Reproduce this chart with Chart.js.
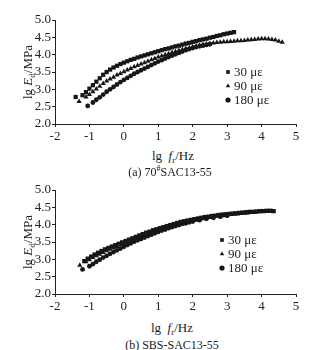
<!DOCTYPE html>
<html>
<head>
<meta charset="utf-8">
<script src="https://cdn.jsdelivr.net/npm/chart.js@4.4.0/dist/chart.umd.min.js"></script>
<style>
  body { margin: 0; background: #fff; }
  #wrap { position: relative; width: 332px; height: 350px; font-family: "Liberation Serif", serif; color: #222; }
  canvas { position: absolute; left: 0; }
  .txt { position: absolute; white-space: nowrap; transform: translate(-50%, -50%); font-size: 13px; line-height: 1; }
  .rot { transform: translate(-50%, -50%) rotate(-90deg); }
  sub { font-size: 9px; vertical-align: -3px; line-height: 0; }
  sup { font-size: 8px; vertical-align: 5px; line-height: 0; }
</style>
</head>
<body>
<div id="wrap">
  <canvas id="chartA" width="332" height="145" style="top:0px"></canvas>
  <canvas id="chartB" width="332" height="145" style="top:170px"></canvas>

  <div class="txt rot" style="left:27px;top:72px">lg <i>E</i><sub>d</sub>/MPa</div>
  <div class="txt" style="left:173px;top:155px">lg&nbsp; <i>f</i><sub>r</sub>/Hz</div>
  <div class="txt" style="left:170px;top:172px;font-size:12px">(a) 70<sup>#</sup>SAC13-55</div>

  <div class="txt rot" style="left:27px;top:242px">lg <i>E</i><sub>d</sub>/MPa</div>
  <div class="txt" style="left:172px;top:327px">lg&nbsp; <i>f</i><sub>r</sub>/Hz</div>
  <div class="txt" style="left:172px;top:345px;font-size:12px">(b) SBS-SAC13-55</div>
</div>

<script>
// series labels
const seriesLabels = ['30 με', '90 με', '180 με'];

// (a) 70#SAC13-55
const a30X = [-1.4,-1.2,-1.1,-1.0,-0.9,-0.8,-0.7,-0.6,-0.5,-0.4,-0.3,-0.2,-0.1,0,0.1,0.2,0.3,0.4,0.5,0.6,0.7,0.8,0.9,1.0,1.1,1.2,1.3,1.4,1.5,1.6,1.7,1.8,1.9,2.0,2.1,2.2,2.3,2.4,2.5,2.6,2.7,2.8,2.9,3.0,3.1,3.2];
const a30Y = [2.78,2.83,2.92,3.02,3.12,3.22,3.32,3.42,3.50,3.57,3.63,3.68,3.73,3.77,3.81,3.85,3.88,3.92,3.95,3.98,4.01,4.04,4.07,4.10,4.13,4.16,4.18,4.21,4.24,4.26,4.29,4.32,4.34,4.37,4.39,4.42,4.44,4.46,4.49,4.51,4.54,4.56,4.59,4.61,4.63,4.65];

const a90X = [-1.3,-1.1,-1.0,-0.9,-0.8,-0.7,-0.6,-0.5,-0.4,-0.3,-0.2,-0.1,0,0.1,0.2,0.3,0.4,0.5,0.6,0.7,0.8,0.9,1.0,1.1,1.2,1.3,1.4,1.5,1.6,1.7,1.8,1.9,2.0,2.1,2.2,2.3,2.4,2.5,2.6,2.7,2.8,2.9,3.0,3.1,3.2,3.3,3.4,3.5,3.6,3.7,3.8,3.9,4.0,4.1,4.2,4.3,4.4,4.5,4.6];
const a90Y = [2.65,2.78,2.85,2.93,3.01,3.09,3.17,3.24,3.30,3.35,3.41,3.46,3.51,3.56,3.60,3.65,3.69,3.73,3.77,3.81,3.85,3.89,3.93,3.96,4.00,4.03,4.06,4.09,4.12,4.15,4.18,4.20,4.23,4.25,4.27,4.29,4.31,4.32,4.34,4.35,4.36,4.37,4.37,4.38,4.39,4.40,4.40,4.41,4.42,4.43,4.44,4.45,4.46,4.46,4.45,4.44,4.42,4.39,4.36];

const a180X = [-1.05,-0.9,-0.8,-0.7,-0.6,-0.5,-0.4,-0.3,-0.2,-0.1,0,0.1,0.2,0.3,0.4,0.5,0.6,0.7,0.8,0.9,1.0,1.1,1.2,1.3,1.4,1.5,1.6,1.7,1.8,1.9,2.0,2.1,2.2,2.3,2.4,2.5];
const a180Y = [2.52,2.62,2.70,2.77,2.85,2.93,3.00,3.07,3.14,3.21,3.27,3.33,3.39,3.45,3.50,3.55,3.60,3.65,3.70,3.75,3.80,3.84,3.89,3.93,3.97,4.01,4.05,4.09,4.13,4.16,4.19,4.22,4.24,4.26,4.28,4.30];

// (b) SBS-SAC13-55
const b30X = [-1.15,-1.05,-0.95,-0.85,-0.75,-0.65,-0.55,-0.45,-0.35,-0.25,-0.15,-0.05,0.05,0.15,0.25,0.35,0.45,0.55,0.65,0.75,0.85,0.95,1.05,1.15,1.25,1.35,1.45,1.55,1.65,1.75,1.85,1.95,2.05,2.15,2.25,2.35,2.45,2.55,2.65,2.75,2.85,2.95,3.05,3.15,3.25,3.35,3.45,3.55,3.65,3.75,3.85,3.95,4.05,4.15,4.25,4.35];
const b30Y = [2.95,3.02,3.08,3.14,3.19,3.24,3.29,3.33,3.37,3.41,3.45,3.49,3.53,3.57,3.61,3.65,3.69,3.73,3.77,3.80,3.84,3.87,3.90,3.93,3.96,3.99,4.02,4.05,4.08,4.10,4.12,4.14,4.16,4.18,4.20,4.22,4.23,4.25,4.26,4.28,4.29,4.30,4.31,4.32,4.33,4.34,4.35,4.36,4.37,4.37,4.38,4.39,4.39,4.40,4.40,4.39];

const b90X = [-1.28,-1.1,-1.0,-0.9,-0.8,-0.7,-0.6,-0.5,-0.4,-0.3,-0.2,-0.1,0,0.1,0.2,0.3,0.4,0.5,0.6,0.7,0.8,0.9,1.0,1.1,1.2,1.3,1.4,1.5,1.6,1.7,1.8,1.9,2.0,2.1,2.2,2.3,2.4,2.5,2.6,2.7,2.8,2.9,3.0,3.1,3.2,3.3,3.4,3.5,3.6,3.7,3.8,3.9,4.0,4.1,4.2,4.3];
const b90Y = [2.83,2.93,2.99,3.05,3.10,3.15,3.20,3.25,3.29,3.33,3.37,3.41,3.45,3.49,3.53,3.57,3.61,3.65,3.69,3.73,3.77,3.81,3.84,3.87,3.90,3.93,3.96,3.99,4.02,4.05,4.07,4.09,4.11,4.13,4.15,4.17,4.19,4.21,4.22,4.24,4.25,4.26,4.28,4.29,4.30,4.31,4.32,4.33,4.34,4.35,4.36,4.37,4.38,4.38,4.39,4.39];

const b180X = [-1.2,-1.0,-0.9,-0.8,-0.7,-0.6,-0.5,-0.4,-0.3,-0.2,-0.1,0,0.1,0.2,0.3,0.4,0.5,0.6,0.7,0.8,0.9,1.0,1.1,1.2,1.3,1.4,1.5,1.6,1.7,1.8,1.9,2.0,2.2,2.4,2.6,2.8,3.0];
const b180Y = [2.71,2.80,2.86,2.93,2.99,3.05,3.10,3.16,3.21,3.26,3.31,3.36,3.41,3.46,3.51,3.55,3.59,3.63,3.67,3.71,3.75,3.79,3.83,3.86,3.90,3.93,3.96,3.99,4.02,4.04,4.07,4.09,4.13,4.17,4.20,4.23,4.26];

const INK = '#161616';
const FONT = '"Liberation Serif", serif';

function pts(xs, ys) {
  return xs.map((x, i) => ({ x: x, y: ys[i] }));
}

// draws the little legend inside the plot
const innerLegend = {
  id: 'innerLegend',
  afterDraw(chart, args, opts) {
    const ctx = chart.ctx;
    ctx.save();
    ctx.font = '13px ' + FONT;
    ctx.textBaseline = 'middle';
    chart.data.datasets.forEach((ds, i) => {
      const y = opts.y + i * opts.step;
      ctx.fillStyle = INK;
      ctx.strokeStyle = INK;
      Chart.helpers.drawPoint(ctx, { pointStyle: ds.pointStyle, radius: 2.6, borderWidth: 0 }, opts.x, y);
      ctx.fillStyle = '#222';
      ctx.fillText(ds.label, opts.x + 6, y + 1);
    });
    ctx.restore();
  }
};

function makeChart(id, s30, s90, s180, legendPos) {
  const ctx = document.getElementById(id).getContext('2d');
  const mk = (label, data, style, r) => ({
    label: label,
    data: data,
    pointStyle: style,
    pointRadius: r,
    pointBackgroundColor: INK,
    pointBorderColor: INK,
    pointBorderWidth: 0,
    showLine: false
  });
  return new Chart(ctx, {
    type: 'scatter',
    data: {
      datasets: [
        mk(seriesLabels[0], s30, 'rect', 3),
        mk(seriesLabels[1], s90, 'triangle', 3),
        mk(seriesLabels[2], s180, 'circle', 2.4)
      ]
    },
    plugins: [innerLegend],
    options: {
      responsive: false,
      animation: false,
      layout: { padding: { left: 0, right: 36, top: 20, bottom: 0 } },
      plugins: {
        legend: { display: false },
        tooltip: { enabled: false },
        innerLegend: legendPos
      },
      scales: {
        x: {
          type: 'linear', min: -2, max: 5,
          afterFit: s => { s.height = 21; },
          border: { display: true, color: '#222', width: 1 },
          grid: { drawOnChartArea: false, drawTicks: true, tickLength: 3, color: '#222' },
          ticks: { stepSize: 1, autoSkip: false, maxRotation: 0, padding: 2, color: '#222', font: { family: FONT, size: 13 } }
        },
        y: {
          type: 'linear', min: 2, max: 5,
          afterFit: s => { s.width = 55; },
          border: { display: true, color: '#222', width: 1 },
          grid: { drawOnChartArea: false, drawTicks: true, tickLength: 3, color: '#222' },
          ticks: { stepSize: 0.5, autoSkip: false, padding: 1, color: '#222', font: { family: FONT, size: 13 },
                   callback: v => v.toFixed(1) }
        }
      }
    }
  });
}

makeChart('chartA', pts(a30X, a30Y), pts(a90X, a90Y), pts(a180X, a180Y), { x: 228, y: 72, step: 14 });
makeChart('chartB', pts(b30X, b30Y), pts(b90X, b90Y), pts(b180X, b180Y), { x: 222, y: 70, step: 14 });
</script>
</body>
</html>
